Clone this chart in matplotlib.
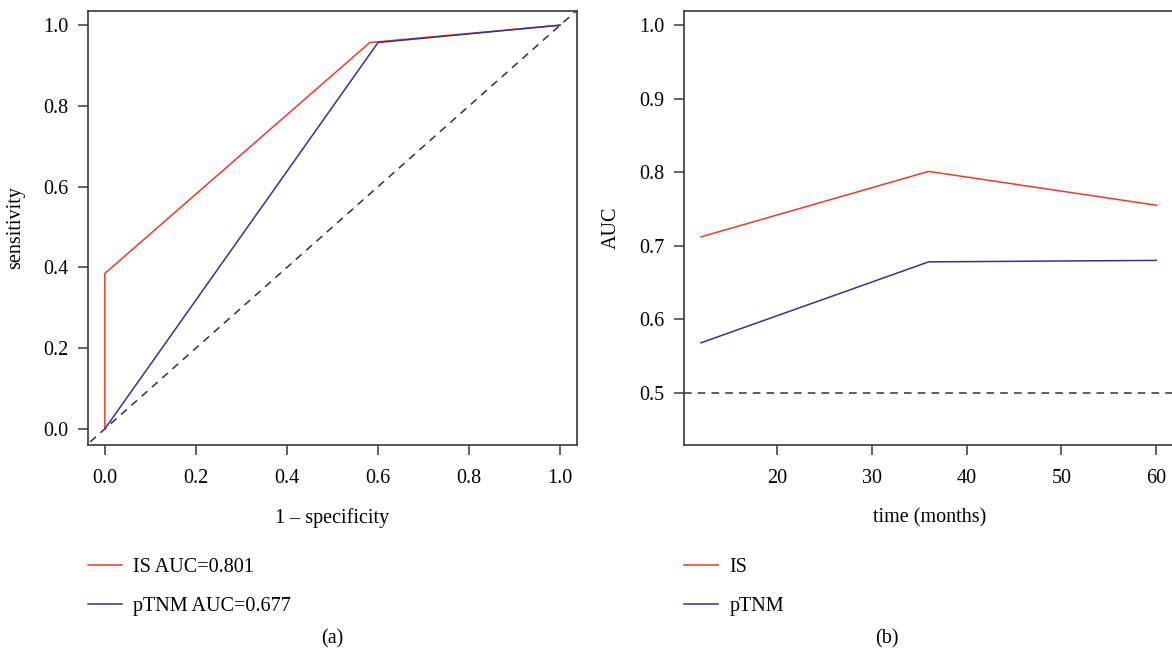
import matplotlib.pyplot as plt

plt.rcParams['font.family'] = ['Liberation Serif', 'DejaVu Serif']
plt.rcParams['font.size'] = 14.5

# ROC curves (panel a)
is_fpr = [0.0, 0.0, 0.582, 1.0]
is_tpr = [0.0, 0.385, 0.957, 1.0]
ptnm_fpr = [0.0, 0.6, 1.0]
ptnm_tpr = [0.0, 0.957, 1.0]
is_auc = 0.801
ptnm_auc = 0.677

# time-dependent AUC (panel b)
months = [12, 36, 60]
is_time_auc = [0.712, 0.801, 0.755]
ptnm_time_auc = [0.568, 0.678, 0.680]

red = '#ee3a2a'
blue = '#3b2f94'
spine_col = '#3a3a3a'

fig = plt.figure(figsize=(11.72, 6.53), dpi=100)
ax1 = fig.add_axes([0.0751, 0.3185, 0.4172, 0.6646])
ax2 = fig.add_axes([0.5836, 0.3185, 0.4185, 0.6646])

leg_kw = dict(loc='upper left', bbox_transform=fig.transFigure, frameon=False,
              handlelength=1.7, handletextpad=0.55, labelspacing=1.0,
              borderaxespad=0, borderpad=0)

# panel a
ax1.plot([-0.1, 1.1], [-0.1, 1.1], ls=(0, (5, 4)), color='#333333', lw=1.1)
l1, = ax1.plot(is_fpr, is_tpr, color=red, lw=1.1)
l2, = ax1.plot(ptnm_fpr, ptnm_tpr, color=blue, lw=1.1)
ax1.set_xlim(-0.037, 1.037)
ax1.set_ylim(-0.04, 1.035)
ax1.set_xticks([0, 0.2, 0.4, 0.6, 0.8, 1.0])
ax1.set_yticks([0, 0.2, 0.4, 0.6, 0.8, 1.0])
ax1.set_xlabel('1 – specificity', labelpad=15)
ax1.set_ylabel('sensitivity', labelpad=13)
ax1.legend([l1, l2], [f'IS AUC={is_auc}', f'pTNM AUC={ptnm_auc}'],
           bbox_to_anchor=(0.0751, 0.1453), **leg_kw)

# panel b
ax2.axhline(0.5, ls=(0, (5, 4)), color='#333333', lw=1.1)
m1, = ax2.plot(months, is_time_auc, color=red, lw=1.1)
m2, = ax2.plot(months, ptnm_time_auc, color=blue, lw=1.1)
ax2.set_xlim(10.2, 61.92)
ax2.set_ylim(0.429, 1.019)
ax2.set_xticks([20, 30, 40, 50, 60])
ax2.set_yticks([0.5, 0.6, 0.7, 0.8, 0.9, 1.0])
ax2.set_xlabel('time (months)', labelpad=15)
ax2.set_ylabel('AUC', labelpad=13)
ax2.legend([m1, m2], ['IS', 'pTNM'],
           bbox_to_anchor=(0.5836, 0.1453), **leg_kw)

for ax in (ax1, ax2):
    for s in ax.spines.values():
        s.set_color(spine_col)
        s.set_linewidth(1.2)
    ax.tick_params(direction='out', length=7, width=1.1, color=spine_col, pad=7)
    ax.tick_params(axis='x', pad=10)

fig.text(0.2833, 0.022, '(a)', ha='center', va='center')
fig.text(0.757, 0.022, '(b)', ha='center', va='center')

fig.savefig('out.png', dpi=100)
